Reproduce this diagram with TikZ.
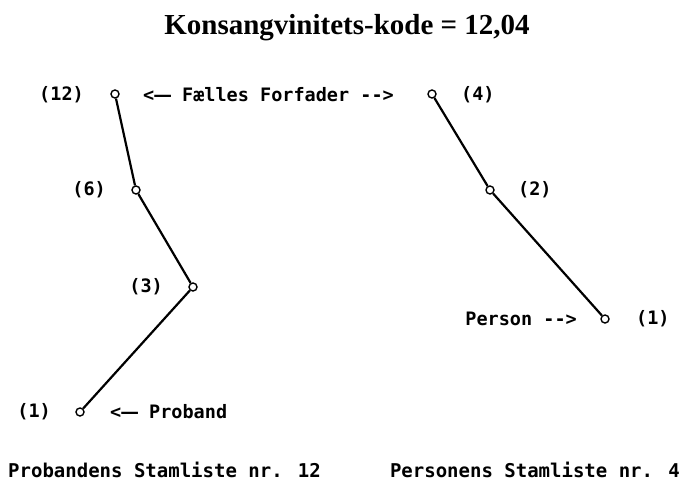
\documentclass[tikz,border=0pt]{standalone}
\usepackage{fontspec}
\usepackage{graphicx}
\setmainfont{Liberation Serif}
\newfontfamily\mono{DejaVu Sans Mono}
\newcommand\ldash{\scalebox{1.5}[1]{—}}
\tikzset{
  pt/.style={circle,draw,line width=1.4pt,inner sep=0pt,minimum size=8pt,fill=white},
  lbl/.style={font=\mono\bfseries\fontsize{18.5}{22}\selectfont,inner sep=0pt},
  foot/.style={font=\mono\bfseries\fontsize{19}{22}\selectfont,inner sep=0pt},
  link/.style={line width=2.2pt}
}
\begin{document}
\begin{tikzpicture}[x=1pt,y=-1pt]
\useasboundingbox (0,0) rectangle (682,482);
\node[font=\bfseries\fontsize{29}{32}\selectfont,inner sep=0pt,anchor=base] (title) at (347,34) {Konsangvinitets-kode = 12,04};
% left chain
\node[pt] (l12) at (115,94) {};
\node[pt] (l6) at (136,190) {};
\node[pt] (l3) at (193,287) {};
\node[pt] (l1) at (80,412) {};
\draw[link] (l12) -- (l6);
\draw[link] (l6) -- (l3);
\draw[link] (l3) -- (l1);
% right chain
\node[pt] (r4) at (432,94) {};
\node[pt] (r2) at (490,190) {};
\node[pt] (r1) at (605,319) {};
\draw[link] (r4) -- (r2);
\draw[link] (r2) -- (r1);
% labels
\node[lbl,anchor=east] (t12) at (84,95) {(12)};
\node[lbl,anchor=east] (t6) at (106,190) {(6)};
\node[lbl,anchor=east] (t3) at (163,287) {(3)};
\node[lbl,anchor=east] (t1l) at (51,412) {(1)};
\node[lbl,anchor=west] (t4) at (461,95) {(4)};
\node[lbl,anchor=west] (t2) at (518,190) {(2)};
\node[lbl,anchor=west] (t1r) at (636,319) {(1)};
\node[lbl,anchor=west] (ff) at (143,95) {<\ldash{} Fælles Forfader -->};
\node[lbl,anchor=west] (prob) at (110,412) {<\ldash{} Proband};
\node[lbl,anchor=east] (pers) at (577,319) {Person -->};
\node[foot,anchor=base west] (sl) at (8,477) {Probandens Stamliste nr. 12};
\node[foot,anchor=base east] (sr) at (680,477) {Personens Stamliste nr. 4};
\end{tikzpicture}
\end{document}
